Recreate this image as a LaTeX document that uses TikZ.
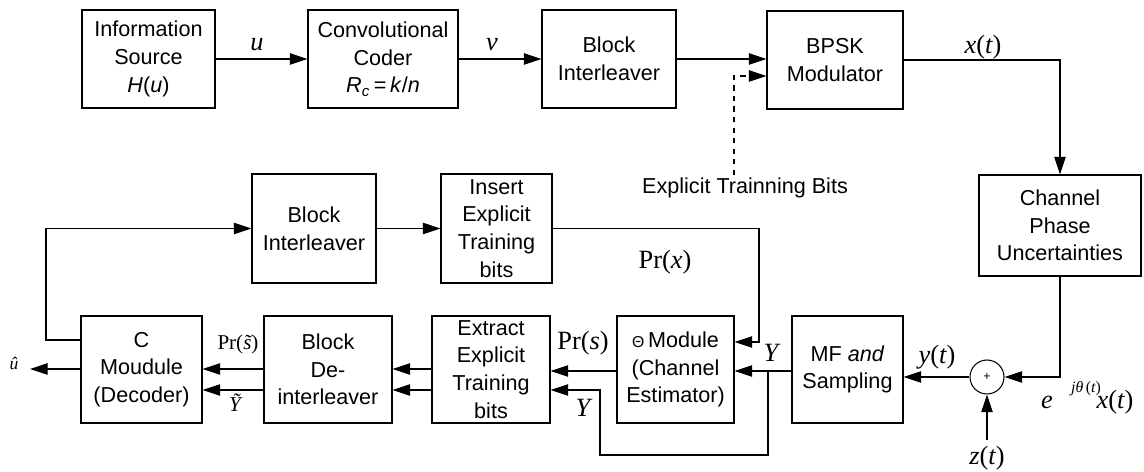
\documentclass[tikz,border=0pt]{standalone}
\usepackage{fontspec}
\setmainfont{Liberation Sans}
\newfontfamily\tm{Liberation Serif}
\usetikzlibrary{arrows.meta,calc}
\newcommand\mi[1]{{\tm\itshape #1}}
\begin{document}
\begin{tikzpicture}[x=0.02cm,y=-0.02cm,
 blk/.style={draw,line width=0.6pt,inner sep=0pt,align=center,font=\fontsize{12.3}{15.8}\selectfont},
 arr/.style={-{Triangle[length=10pt,width=6.5pt]},line width=0.6pt},
 lab/.style={inner sep=0pt,font=\fontsize{15}{18}\selectfont\tm},
 slab/.style={inner sep=0pt,font=\fontsize{12}{14}\selectfont\tm},
]
\useasboundingbox (0,0) rectangle (1144,472);

% top row
\node[blk,minimum width=2.66cm,minimum height=1.96cm] (src) at (148.5,59) {Information\\Source\\\textit{H}(\textit{u})};
\node[blk,minimum width=3.0cm,minimum height=1.96cm] (conv) at (383,59) {Convolutional\\Coder\\\textit{R}\textsubscript{\textit{c}}\,=\,\textit{k}/\textit{n}};
\node[blk,minimum width=2.68cm,minimum height=1.96cm] (bint) at (609,59) {Block\\Interleaver};
\node[blk,minimum width=2.72cm,minimum height=1.96cm] (bpsk) at (835,60) {BPSK\\Modulator};
\node[blk,minimum width=3.24cm,minimum height=2.02cm] (chan) at (1060,225.5) {Channel\\Phase\\Uncertainties};

% middle row
\node[blk,minimum width=2.48cm,minimum height=2.18cm] (bint2) at (314,228.5) {Block\\Interleaver};
\node[blk,minimum width=2.22cm,minimum height=2.18cm] (ins) at (496.5,228.5) {Insert\\Explicit\\Training\\bits};

% bottom row
\node[blk,minimum width=2.42cm,minimum height=2.14cm] (dec) at (141.5,369.5) {C\\Moudule\\(Decoder)};
\node[blk,minimum width=2.56cm,minimum height=2.14cm] (deint) at (328,369.5) {Block\\De-\\interleaver};
\node[blk,minimum width=2.36cm,minimum height=2.14cm] (ext) at (491,369.5) {Extract\\Explicit\\Training\\bits};
\node[blk,minimum width=2.34cm,minimum height=2.14cm] (theta) at (675.5,369.5) {{\fontsize{9}{9}\selectfont Θ}\,Module\\(Channel\\Estimator)};
\node[blk,minimum width=2.22cm,minimum height=2.14cm] (mf) at (847.5,369.5) {MF \textit{and}\\Sampling};
\node[draw,circle,line width=0.6pt,minimum size=0.68cm,inner sep=0pt,font=\fontsize{7}{7}\selectfont] (sum) at (987,377) {+};

% labels
\node[lab] (lu) at (257,45) {\mi{u}};
\node[lab] (lv) at (492,45) {\mi{v}};
\node[lab] (lxt) at (983,47) {\mi{x}(\mi{t})};
\node[blk,draw=none] (etbtext) at (745,188) {Explicit Trainning Bits};
\node[lab] (lprx) at (665,262) {Pr(\mi{x})};
\node[lab] (lprs) at (583,343) {Pr(\mi{s})};
\node[lab] (lY1) at (771,353) {\mi{Y}};
\node[lab] (lY2) at (583,408) {\mi{Y}};
\node[slab] (lprst) at (238,344) {Pr(\mi{\~{s}})};
\node[slab] (lYt) at (235,403) {\mi{Ỹ}};
\node[inner sep=0pt,font=\fontsize{10}{10}\selectfont\tm] (uhat) at (14,363) {\mi{\^{u}}};
\node[lab] (lyt) at (937,357) {\mi{y}(\mi{t})};
\node[lab] (zt) at (987,458) {\mi{z}(\mi{t})};
\node[lab] (le) at (1047,402) {\mi{e}};
\node[inner sep=0pt,font=\fontsize{9}{9}\selectfont\tm] (lsup) at (1086,389) {\mi{jθ}\,(\mi{t})};
\node[lab] (lx2) at (1115,402) {\mi{x}(\mi{t})};

% coordinates
\coordinate (etb) at (734,175);
\coordinate (j) at (768,371);
\coordinate (yb) at (600,455);
\coordinate (ya) at (0,369);
\coordinate (yb2) at (0,390);
\coordinate (c1) at (759,342);
\coordinate (uo) at (30,369);
\coordinate (fb) at (46,340);
\coordinate (zs) at (987,440);

% connectors
\draw[arr] (src.east) -- (conv.west);
\draw[arr] (conv.east) -- (bint.west);
\draw[arr] (bint.east) -- (bint.east -| bpsk.west);
\draw[arr,dashed] (etb) |- ($(bpsk.west)+(0,16)$);
\draw[arr] (bpsk.east) -| (chan.north);
\draw[arr] (chan.south) |- (sum.east);
\draw[arr] (zs) -- (sum.south);
\draw[arr] (sum.west) -- (sum.west -| mf.east);
\draw[arr] (mf.west |- j) -- (theta.east |- j);
\draw[arr] (j) |- (yb) |- (ext.east |- yb2);
\draw[arr] (ins.east) -| (c1) -- (c1 -| theta.east);
\draw[arr] (theta.west |- j) -- (ext.east |- j);
\draw[arr] (ext.west |- ya) -- (deint.east |- ya);
\draw[arr] (ext.west |- yb2) -- (deint.east |- yb2);
\draw[arr] (deint.west |- ya) -- (dec.east |- ya);
\draw[arr] (deint.west |- yb2) -- (dec.east |- yb2);
\draw[arr] (dec.west |- ya) -- (uo);
\draw[arr] (dec.west |- fb) -- (fb) |- (bint2.west);
\draw[arr] (bint2.east) -- (ins.west);
\end{tikzpicture}
\end{document}
